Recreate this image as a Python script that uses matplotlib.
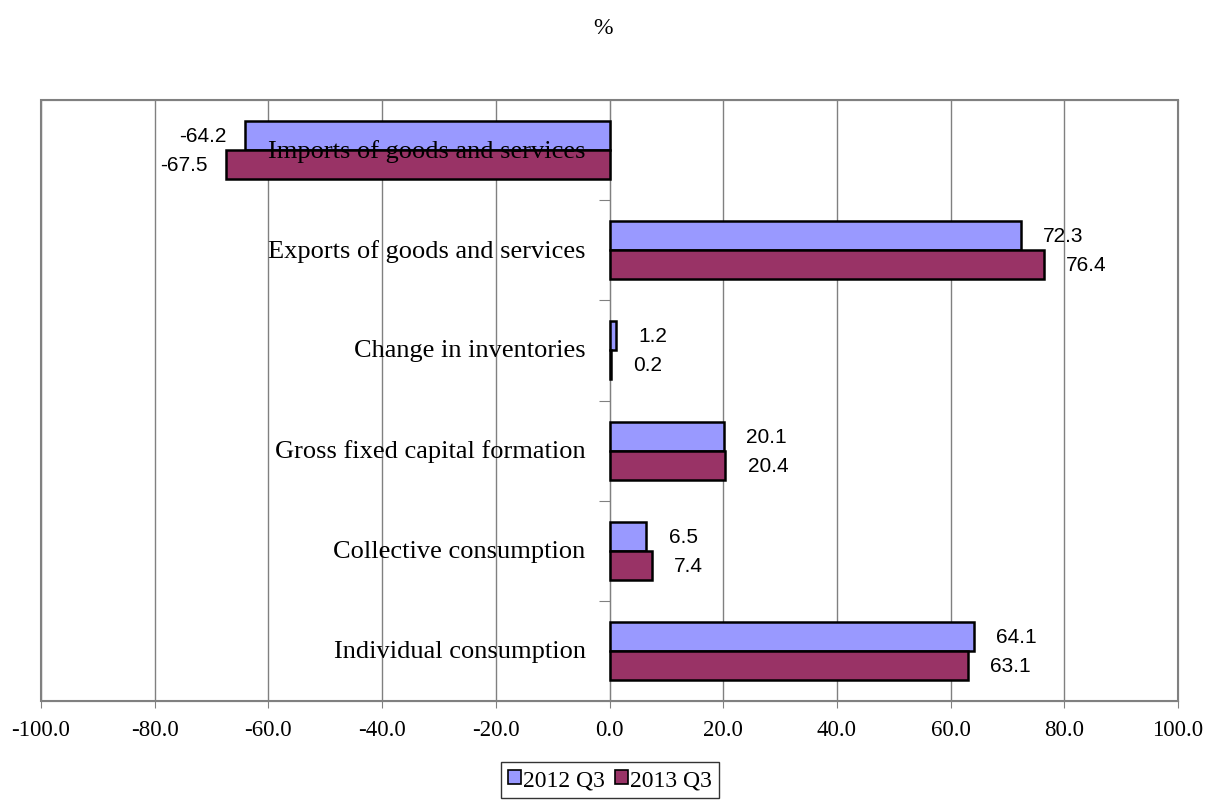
import matplotlib
matplotlib.use("Agg")
import matplotlib.pyplot as plt
from matplotlib.patches import Patch

# data
categories = ["Individual consumption", "Collective consumption",
              "Gross fixed capital formation", "Change in inventories",
              "Exports of goods and services", "Imports of goods and services"]
q2012 = [64.1, 6.5, 20.1, 1.2, 72.3, -64.2]
q2013 = [63.1, 7.4, 20.4, 0.2, 76.4, -67.5]
series_names = ["2012 Q3", "2013 Q3"]
xticks = [-100, -80, -60, -40, -20, 0, 20, 40, 60, 80, 100]

blue = "#9999FF"
maroon = "#993366"
serif = "Liberation Serif"
sans = "Liberation Sans"

fig = plt.figure(figsize=(12.06, 8.04), dpi=100)
ax = fig.add_axes([41/1206, 1-702/804, (1178-41)/1206, (702-101)/804])

ypos = list(range(len(categories)))
h = 0.29
ax.barh([y + h/2 for y in ypos], q2012, height=h, color=blue, edgecolor="black", linewidth=1.8, zorder=3)
ax.barh([y - h/2 for y in ypos], q2013, height=h, color=maroon, edgecolor="black", linewidth=1.8, zorder=3)

# value labels
for vals, off in [(q2012, h/2), (q2013, -h/2)]:
    for y, v in zip(ypos, vals):
        if v >= 0:
            ax.annotate(f"{v:.1f}", (v, y + off), xytext=(16, 0), textcoords="offset points",
                        ha="left", va="center", fontsize=15, family=sans, zorder=4)
        else:
            ax.annotate(f"{v:.1f}", (v, y + off), xytext=(-13, 0), textcoords="offset points",
                        ha="right", va="center", fontsize=15, family=sans, zorder=4)

# category labels next to the zero axis, drawn over the bars
for y, name in zip(ypos, categories):
    ax.annotate(name, (0, y), xytext=(-24, 0), textcoords="offset pixels",
                ha="right", va="center", fontsize=19, family=serif, zorder=6)

ax.set_xlim(-100, 100)
ax.set_ylim(-0.5, len(categories) - 0.5)
ax.set_xticks(xticks)
ax.set_xticklabels([f"{t:.1f}" for t in xticks], family=serif, fontsize=16.5)
ax.tick_params(axis="x", length=5, color="#808080", pad=8)
ax.grid(axis="x", color="#808080", linewidth=1, zorder=0)

# y axis at zero, ticks between categories
ax.spines["left"].set_position(("data", 0))
ax.spines["left"].set_color("#808080")
ax.set_yticks([y + 0.5 for y in ypos[:-1]])
ax.set_yticklabels([])
ax.tick_params(axis="y", which="major", length=8, color="#808080")

for s in ["top", "right", "bottom"]:
    ax.spines[s].set_color("#808080")
ax.patch.set_edgecolor("#808080")
ax.patch.set_linewidth(1.5)

fig.text(0.5, 1-28/804, "%", ha="center", va="center", family=serif, fontsize=17)

handles = [Patch(facecolor=blue, edgecolor="black", linewidth=1.2),
           Patch(facecolor=maroon, edgecolor="black", linewidth=1.2)]
leg = fig.legend(handles, series_names, loc="center", bbox_to_anchor=(610/1206, 1-781/804),
                 ncol=2, prop={"family": serif, "size": 17}, frameon=True, fancybox=False,
                 edgecolor="black", handlelength=0.55, handleheight=0.55, handletextpad=0.1,
                 columnspacing=0.4, borderpad=0.3)
leg.get_frame().set_linewidth(1)

fig.savefig("out.png", dpi=100)
